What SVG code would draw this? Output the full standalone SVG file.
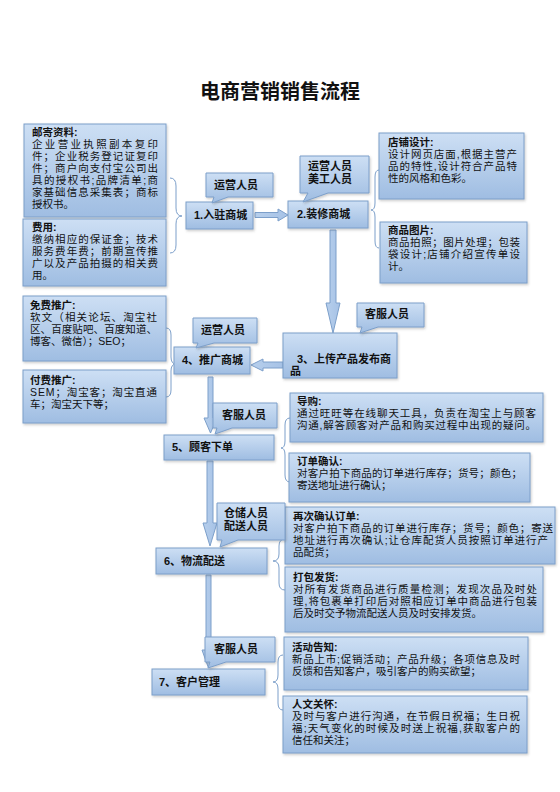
<svg xmlns="http://www.w3.org/2000/svg" width="560" height="792" viewBox="0 0 560 792">
<defs>
<linearGradient id="g" x1="0" y1="0" x2="0" y2="1">
<stop offset="0" stop-color="#cddff4"/>
<stop offset="1" stop-color="#9fbde2"/>
</linearGradient>
<linearGradient id="ga" x1="0" y1="0" x2="1" y2="0">
<stop offset="0" stop-color="#b7cfec"/>
<stop offset="1" stop-color="#a6c2e6"/>
</linearGradient>
<filter id="sh" x="-10%" y="-10%" width="130%" height="140%">
<feDropShadow dx="1" dy="1.5" stdDeviation="1" flood-color="#555" flood-opacity="0.3"/>
</filter>
</defs>
<style>
text{font-family:"Liberation Sans","Noto Sans CJK SC",sans-serif;fill:#111;}
.box{fill:url(#g);stroke:#7c9fca;stroke-width:1;filter:url(#sh);}
.t{font-size:10.5px;}
.h{font-size:10.5px;font-weight:bold;}
.n{font-size:11px;font-weight:bold;}
.title{font-size:20px;font-weight:bold;}
.arr{fill:url(#ga);stroke:#7c9fca;stroke-width:1;}
.br{fill:none;stroke:#7c9fca;stroke-width:1;}
</style>
<rect width="560" height="792" fill="#fff"/>
<text class="title" x="280" y="99" text-anchor="middle">电商营销销售流程</text>

<g id="connectors">
<path class="arr" d="M255,212.5 H278 V209 L288,215 L278,221 V217.5 H255 Z"/>
<path class="arr" d="M330,230 H336 V303 H340 L333,333 L326,303 H330 Z"/>
<path class="arr" d="M283,362 H263 V359 L251,365 L263,371 V368 H283 Z"/>
<path class="arr" d="M208,377 H213 V418 H217 L210.5,433 L204,418 H208 Z"/>
<path class="arr" d="M207,461 H213 V523 H217 L210,546 L203,523 H207 Z"/>
<path class="arr" d="M206,575 H211 V650 H215 L208.5,668 L202,650 H206 Z"/>
<path class="br" d="M170,178 Q176,178 176,186 V208 Q176,216 182,216 Q176,216 176,224 V245 Q176,253 170,253"/>
<path class="br" d="M166,328 Q171,328 171,335 V357 Q171,364 176,364 Q171,364 171,371 V390 Q171,397 166,397"/>
<path class="br" d="M379,170 Q375,170 375,177 V203 Q375,210 371,210 Q375,210 375,217 V241 Q375,248 379,248"/>
<path class="br" d="M290,418 Q285,418 285,425 V441 Q285,448 281,448 Q285,448 285,455 V475 Q285,482 290,482"/>
<path class="br" d="M285,539 Q279,539 279,546 V554 Q279,561 273,561 Q279,561 279,568 V583 Q279,590 285,590"/>
<path class="br" d="M283,655 Q278,655 278,662 V675 Q278,682 273,682 Q278,682 278,689 V703 Q278,710 283,710"/>
</g>

<g id="box-mail">
<rect class="box" x="24" y="124" width="142" height="93"/>
<text class="h" x="32" y="136">邮寄资料:</text>
<text class="t" x="32" y="148" textLength="126" lengthAdjust="spacing">企业营业执照副本复印</text>
<text class="t" x="32" y="160" textLength="126" lengthAdjust="spacing">件；企业税务登记证复印</text>
<text class="t" x="32" y="172" textLength="126" lengthAdjust="spacing">件；商户向支付宝公司出</text>
<text class="t" x="32" y="184" textLength="126" lengthAdjust="spacing">具的授权书;品牌清单;商</text>
<text class="t" x="32" y="196" textLength="126" lengthAdjust="spacing">家基础信息采集表；商标</text>
<text class="t" x="32" y="208">授权书。</text>
</g>

<g id="box-fee">
<rect class="box" x="23" y="219" width="143" height="67"/>
<text class="h" x="32" y="231">费用:</text>
<text class="t" x="32" y="243" textLength="126" lengthAdjust="spacing">缴纳相应的保证金；技术</text>
<text class="t" x="32" y="255" textLength="126" lengthAdjust="spacing">服务费年费；前期宣传推</text>
<text class="t" x="32" y="267" textLength="126" lengthAdjust="spacing">广以及产品拍摄的相关费</text>
<text class="t" x="32" y="279">用。</text>
</g>

<g id="node1">
<rect class="box" x="186" y="202" width="67" height="27"/>
<text class="n" x="194" y="219">1.入驻商城</text>
</g>
<g id="callout1">
<path class="box" d="M206,173 H273 V197 H228 L212,203 L214,197 H206 Z"/>
<text class="n" x="214" y="189">运营人员</text>
</g>

<g id="node2">
<rect class="box" x="288" y="201" width="80" height="27"/>
<text class="n" x="297" y="218">2.装修商城</text>
</g>
<g id="callout2">
<path class="box" d="M300,156 H369 V193 H328 L303,202 L308,193 H300 Z"/>
<text class="n" x="308" y="170">运营人员</text>
<text class="n" x="308" y="182.5">美工人员</text>
</g>

<g id="box-shop">
<rect class="box" x="379" y="133" width="145" height="66"/>
<text class="h" x="388" y="146">店铺设计:</text>
<text class="t" x="388" y="158" textLength="129" lengthAdjust="spacing">设计网页店面,根据主营产</text>
<text class="t" x="388" y="170" textLength="129" lengthAdjust="spacing">品的特性,设计符合产品特</text>
<text class="t" x="388" y="182">性的风格和色彩。</text>
</g>

<g id="box-pic">
<rect class="box" x="380" y="222" width="147" height="61"/>
<text class="h" x="388" y="234">商品图片:</text>
<text class="t" x="388" y="246" textLength="132" lengthAdjust="spacing">商品拍照；图片处理；包装</text>
<text class="t" x="388" y="258" textLength="132" lengthAdjust="spacing">袋设计;店铺介绍宣传单设</text>
<text class="t" x="388" y="270">计。</text>
</g>

<g id="node3">
<rect class="box" x="283" y="333" width="114" height="45"/>
<text class="n" x="297" y="363">3、上传产品发布商</text>
<text class="n" x="290" y="375">品</text>
</g>
<g id="callout3">
<path class="box" d="M357,303 H424 V327 H378 L360,333 L362,327 H357 Z"/>
<text class="n" x="365" y="318">客服人员</text>
</g>

<g id="box-free">
<rect class="box" x="23" y="296" width="143" height="65"/>
<text class="h" x="30" y="309">免费推广:</text>
<text class="t" x="30" y="321" textLength="127" lengthAdjust="spacing">软文（相关论坛、淘宝社</text>
<text class="t" x="30" y="333" textLength="127" lengthAdjust="spacing">区、百度贴吧、百度知道、</text>
<text class="t" x="30" y="345">博客、微信）；SEO；</text>
</g>

<g id="box-paid">
<rect class="box" x="23" y="370" width="143" height="53"/>
<text class="h" x="30" y="384">付费推广:</text>
<text class="t" x="30" y="396" textLength="127" lengthAdjust="spacing">SEM；淘宝客；淘宝直通</text>
<text class="t" x="30" y="408">车；淘宝天下等；</text>
</g>

<g id="node4">
<rect class="box" x="174" y="347" width="76" height="27"/>
<text class="n" x="182" y="364">4、推广商城</text>
</g>
<g id="callout4">
<path class="box" d="M193,318 H257 V343 H214 L196,348 L198,343 H193 Z"/>
<text class="n" x="201" y="334">运营人员</text>
</g>

<g id="box-guide">
<rect class="box" x="290" y="393" width="253" height="49"/>
<text class="h" x="297" y="405">导购:</text>
<text class="t" x="297" y="417" textLength="239" lengthAdjust="spacing">通过旺旺等在线聊天工具，负责在淘宝上与顾客</text>
<text class="t" x="297" y="429" textLength="239" lengthAdjust="spacing">沟通,解答顾客对产品和购买过程中出现的疑问。</text>
</g>

<g id="box-confirm">
<rect class="box" x="289" y="453" width="241" height="49"/>
<text class="h" x="297" y="465">订单确认:</text>
<text class="t" x="297" y="477" textLength="225" lengthAdjust="spacing">对客户拍下商品的订单进行库存；货号；颜色；</text>
<text class="t" x="297" y="489">寄送地址进行确认；</text>
</g>

<g id="node5">
<rect class="box" x="164" y="435" width="110" height="25"/>
<text class="n" x="172" y="451">5、顾客下单</text>
</g>
<g id="callout5">
<path class="box" d="M213,403 H277 V428 H232 L215,434 L217,428 H213 Z"/>
<text class="n" x="222" y="419">客服人员</text>
</g>

<g id="box-reconfirm">
<rect class="box" x="285" y="507" width="270" height="57"/>
<text class="h" x="293" y="520">再次确认订单:</text>
<text class="t" x="293" y="532" textLength="260" lengthAdjust="spacing">对客户拍下商品的订单进行库存；货号；颜色；寄送</text>
<text class="t" x="293" y="544" textLength="255" lengthAdjust="spacing">地址进行再次确认;让仓库配货人员按照订单进行产</text>
<text class="t" x="293" y="556">品配货；</text>
</g>

<g id="box-pack">
<rect class="box" x="285" y="567" width="258" height="65"/>
<text class="h" x="293" y="581">打包发货:</text>
<text class="t" x="293" y="593" textLength="244" lengthAdjust="spacing">对所有发货商品进行质量检测；发现次品及时处</text>
<text class="t" x="293" y="605" textLength="244" lengthAdjust="spacing">理,将包裹单打印后对照相应订单中商品进行包装</text>
<text class="t" x="293" y="617">后及时交予物流配送人员及时安排发货。</text>
</g>

<g id="node6">
<rect class="box" x="156" y="548" width="111" height="26"/>
<text class="n" x="164" y="565">6、物流配送</text>
</g>
<g id="callout6">
<path class="box" d="M217,503 H285 V540 H238 L220,547 L222,540 H217 Z"/>
<text class="n" x="224" y="517">仓储人员</text>
<text class="n" x="224" y="529.5">配送人员</text>
</g>

<g id="box-notice">
<rect class="box" x="284" y="637" width="244" height="53"/>
<text class="h" x="292" y="651">活动告知:</text>
<text class="t" x="292" y="663" textLength="228" lengthAdjust="spacing">新品上市;促销活动；产品升级；各项信息及时</text>
<text class="t" x="292" y="675">反馈和告知客户，吸引客户的购买欲望；</text>
</g>

<g id="box-care">
<rect class="box" x="283" y="696" width="244" height="57"/>
<text class="h" x="292" y="708">人文关怀:</text>
<text class="t" x="292" y="720" textLength="228" lengthAdjust="spacing">及时与客户进行沟通，在节假日祝福；生日祝</text>
<text class="t" x="292" y="732" textLength="228" lengthAdjust="spacing">福;天气变化的时候及时送上祝福,获取客户的</text>
<text class="t" x="292" y="744">信任和关注；</text>
</g>

<g id="node7">
<rect class="box" x="152" y="669" width="113" height="26"/>
<text class="n" x="159" y="686">7、客户管理</text>
</g>
<g id="callout7">
<path class="box" d="M205,637 H275 V662 H226 L208,668 L210,662 H205 Z"/>
<text class="n" x="214" y="653">客服人员</text>
</g>
</svg>
